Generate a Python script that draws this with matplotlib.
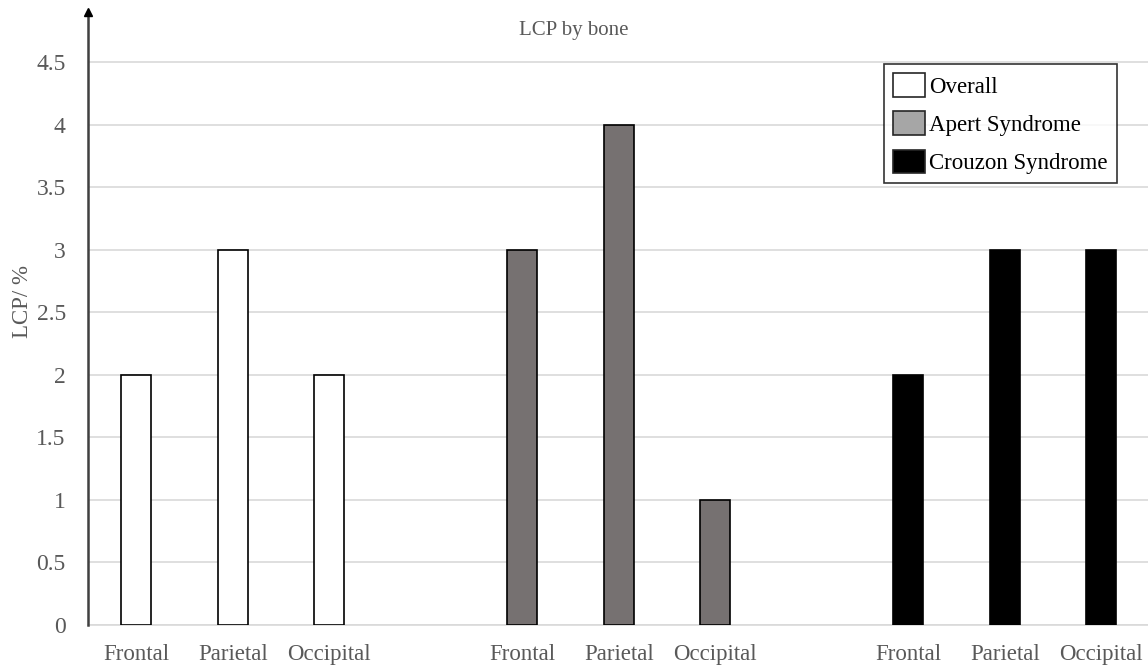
import matplotlib
matplotlib.use("Agg")
import matplotlib.pyplot as plt
from matplotlib.patches import Patch

# Data
bones = ["Frontal", "Parietal", "Occipital"]
groups = ["Overall", "Apert Syndrome", "Crouzon Syndrome"]
overall = [2, 3, 2]
apert = [3, 4, 1]
crouzon = [2, 3, 3]

bar_colors = ["#ffffff", "#767171", "#000000"]
legend_colors = ["#ffffff", "#a6a6a6", "#000000"]

plt.rcParams["font.family"] = ["Liberation Serif", "DejaVu Serif"]

fig = plt.figure(figsize=(11.48, 6.66), dpi=100)
ax = fig.add_axes([88 / 1148, 41 / 666, 1 - 88 / 1148, (625 - 12) / 666])

series = [overall, apert, crouzon]
positions, labels = [], []
for g, (vals, col) in enumerate(zip(series, bar_colors)):
    xs = [g * 4 + i for i in range(len(bones))]
    ax.bar(xs, vals, width=0.31, color=col, edgecolor="#000000", linewidth=1.2, zorder=3)
    positions += xs
    labels += bones

ax.set_xlim(-0.5, (1148 - 88) / 96.5 - 0.5)
ax.set_ylim(0, 4.9)
ax.set_yticks([0, 0.5, 1, 1.5, 2, 2.5, 3, 3.5, 4, 4.5])
ax.set_yticklabels(["0", "0.5", "1", "1.5", "2", "2.5", "3", "3.5", "4", "4.5"])
ax.set_xticks(positions)
ax.set_xticklabels(labels)

ax.tick_params(axis="both", length=0, labelcolor="#595959")
ax.tick_params(axis="x", pad=14, labelsize=16.5)
ax.tick_params(axis="y", pad=16, labelsize=17)

ax.yaxis.grid(True, color="#d9d9d9", linewidth=1.2, zorder=0)
ax.set_axisbelow(True)

for s in ["top", "right"]:
    ax.spines[s].set_visible(False)
ax.spines["bottom"].set_color("#d9d9d9")
ax.spines["bottom"].set_linewidth(1.2)
ax.spines["left"].set_color("#404040")
ax.spines["left"].set_linewidth(1.8)
ax.spines["left"].set_zorder(4)

# Arrow head on the value axis
ax.plot(0, 1, marker="^", color="#000000", markersize=6,
        transform=ax.transAxes, clip_on=False, zorder=5)

ax.set_ylabel("LCP/ %", fontsize=16.5, color="#595959")
ax.yaxis.set_label_coords(-(88 - 33) / 1060, (625 - 301) / 613)
ax.text((574 - 88) / 1060, (625 - 30) / 613, "LCP by bone", transform=ax.transAxes,
        ha="center", va="center", fontsize=15, color="#595959")

handles = [Patch(facecolor=c, edgecolor="#262626", linewidth=1.2) for c in legend_colors]
leg = ax.legend(handles, groups, loc="upper right",
                bbox_to_anchor=((1117 - 88) / 1060, (625 - 64) / 613),
                fontsize=16.5, frameon=True, fancybox=False, handlelength=1.4,
                handleheight=1.2, handletextpad=0.2, labelspacing=0.6,
                borderpad=0.4, borderaxespad=0.0)
leg.get_frame().set_edgecolor("#000000")
leg.get_frame().set_linewidth(1.2)

fig.savefig("out.png", dpi=100)
